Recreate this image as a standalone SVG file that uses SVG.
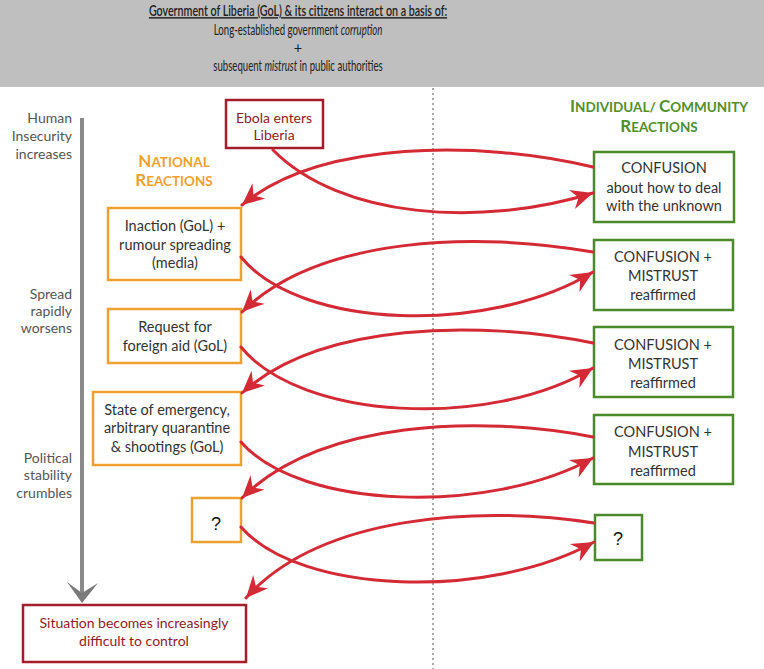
<svg xmlns="http://www.w3.org/2000/svg" width="764" height="669" viewBox="0 0 764 669">
<style>
text{font-family:Lato,"Open Sans","DejaVu Sans",sans-serif;}
.hd{font-size:14.5px;fill:#222;text-anchor:middle;}
.lbl{font-size:14px;fill:#555;text-anchor:end;}
.bt{font-size:14.5px;fill:#333;text-anchor:middle;}
.q{font-family:"Liberation Sans",Arial,sans-serif;font-size:18px;fill:#111;text-anchor:middle;}
.rt{font-size:14px;fill:#8e1b26;text-anchor:middle;}
.ob{fill:#fff;stroke:#f0a030;stroke-width:2.5;}
.gb{fill:#fff;stroke:#4a8a2a;stroke-width:2.5;}
.rb{fill:#fff;stroke:#a51d2a;stroke-width:2.5;}
.ar{fill:none;stroke:#d42a35;stroke-width:3;stroke-linecap:round;marker-end:url(#ah);}
.ttl-o{fill:#f0a030;font-weight:bold;text-anchor:middle;font-size:13.5px;}
.ttl-g{fill:#4f8f2c;font-weight:bold;text-anchor:middle;font-size:13.5px;}
.big{font-size:17px;}
</style>
<defs>
<marker id="ah" markerUnits="userSpaceOnUse" markerWidth="24" markerHeight="22" viewBox="0 0 24 22" refX="23" refY="11" orient="auto">
<path d="M23,11 L1,1 L8,11 L1,21 Z" fill="#d42a35"/>
</marker>
</defs>
<g id="header">
<rect x="0" y="0" width="764" height="87" fill="#bfbfbf"/>
<text class="hd" transform="translate(298,16) scale(0.737,1)" text-decoration="underline" font-weight="600">Government of Liberia (GoL) &amp; its citizens interact on a basis of:</text>
<text class="hd" transform="translate(298,34.5) scale(0.663,1)">Long-established government <tspan font-style="italic">corruption</tspan></text>
<text class="hd" x="298" y="52.5" font-size="14">+</text>
<text class="hd" transform="translate(298,70.5) scale(0.663,1)">subsequent <tspan font-style="italic">mistrust</tspan> in public authorities</text>
</g>
<line id="divider" x1="433" y1="88" x2="433" y2="669" stroke="#a8a8a8" stroke-width="2" stroke-dasharray="2 3"/>
<g id="timeline">
<line x1="82" y1="118" x2="82" y2="596" stroke="#8a8a8a" stroke-width="4"/>
<polygon points="67,582 82,603 98,583 82,593" fill="#7a7a7a"/>
<text class="lbl" x="72" y="123">Human</text>
<text class="lbl" x="72" y="141">Insecurity</text>
<text class="lbl" x="72" y="159">increases</text>
<text class="lbl" x="72" y="299">Spread</text>
<text class="lbl" x="72" y="316">rapidly</text>
<text class="lbl" x="72" y="333">worsens</text>
<text class="lbl" x="72" y="463">Political</text>
<text class="lbl" x="72" y="480">stability</text>
<text class="lbl" x="72" y="498">crumbles</text>
</g>
<g id="national-title">
<text class="ttl-o" x="174" y="167"><tspan class="big">N</tspan>ATIONAL</text>
<text class="ttl-o" x="174" y="186"><tspan class="big">R</tspan>EACTIONS</text>
</g>
<g id="community-title">
<text class="ttl-g" x="659" y="112"><tspan class="big">I</tspan>NDIVIDUAL/ <tspan class="big">C</tspan>OMMUNITY</text>
<text class="ttl-g" x="659" y="132"><tspan class="big">R</tspan>EACTIONS</text>
</g>
<g id="n-ebola">
<rect class="rb" x="226" y="100" width="97" height="48"/>
<text class="rt" x="274" y="123">Ebola enters</text>
<text class="rt" x="274" y="140">Liberia</text>
</g>
<g id="n-inaction">
<rect class="ob" x="108" y="208" width="133" height="72"/>
<text class="bt" x="175" y="231">Inaction (GoL) +</text>
<text class="bt" x="175" y="250">rumour spreading</text>
<text class="bt" x="175" y="268">(media)</text>
</g>
<g id="n-request">
<rect class="ob" x="108" y="309" width="133" height="54"/>
<text class="bt" x="175" y="332">Request for</text>
<text class="bt" x="175" y="351">foreign aid (GoL)</text>
</g>
<g id="n-emergency">
<rect class="ob" x="93" y="392" width="148" height="73"/>
<text class="bt" x="167" y="415">State of emergency,</text>
<text class="bt" x="167" y="433">arbitrary quarantine</text>
<text class="bt" x="167" y="452">&amp; shootings (GoL)</text>
</g>
<g id="n-q-national">
<rect class="ob" x="192" y="498" width="49" height="44"/>
<text class="q" x="216" y="530">?</text>
</g>
<g id="n-situation">
<rect class="rb" x="23" y="605" width="223" height="57"/>
<text class="rt" x="134" y="628">Situation becomes increasingly</text>
<text class="rt" x="134" y="646">difficult to control</text>
</g>
<g id="c-confusion1">
<rect class="gb" x="594" y="152" width="140" height="70"/>
<text class="bt" x="664" y="173">CONFUSION</text>
<text class="bt" x="664" y="193">about how to deal</text>
<text class="bt" x="664" y="211">with the unknown</text>
</g>
<g id="c-mistrust1">
<rect class="gb" x="594" y="240" width="139" height="70"/>
<text class="bt" x="663" y="262">CONFUSION +</text>
<text class="bt" x="663" y="281">MISTRUST</text>
<text class="bt" x="663" y="300">reaffirmed</text>
</g>
<g id="c-mistrust2">
<rect class="gb" x="594" y="327" width="139" height="70"/>
<text class="bt" x="663" y="350">CONFUSION +</text>
<text class="bt" x="663" y="369">MISTRUST</text>
<text class="bt" x="663" y="388">reaffirmed</text>
</g>
<g id="c-mistrust3">
<rect class="gb" x="594" y="415" width="139" height="69"/>
<text class="bt" x="663" y="437">CONFUSION +</text>
<text class="bt" x="663" y="457">MISTRUST</text>
<text class="bt" x="663" y="476">reaffirmed</text>
</g>
<g id="c-q-community">
<rect class="gb" x="595" y="515" width="47" height="45"/>
<text class="q" x="618" y="545">?</text>
</g>
<g id="connectors">
<path class="ar" d="M273,150 C340,218 480,228 593,193"/>
<path class="ar" d="M593,167 C480,140 320,140 242,205"/>
<path class="ar" d="M241,257 C300,330 490,335 593,272"/>
<path class="ar" d="M593,252 C480,232 320,235 242,312"/>
<path class="ar" d="M241,347 C300,420 490,430 593,368"/>
<path class="ar" d="M593,343 C480,320 320,322 242,393"/>
<path class="ar" d="M241,442 C300,510 490,515 593,458"/>
<path class="ar" d="M593,437 C480,415 320,420 242,498"/>
<path class="ar" d="M241,527 C300,595 490,600 594,542"/>
<path class="ar" d="M594,523 C480,505 320,515 246,598"/>
</g>
</svg>
